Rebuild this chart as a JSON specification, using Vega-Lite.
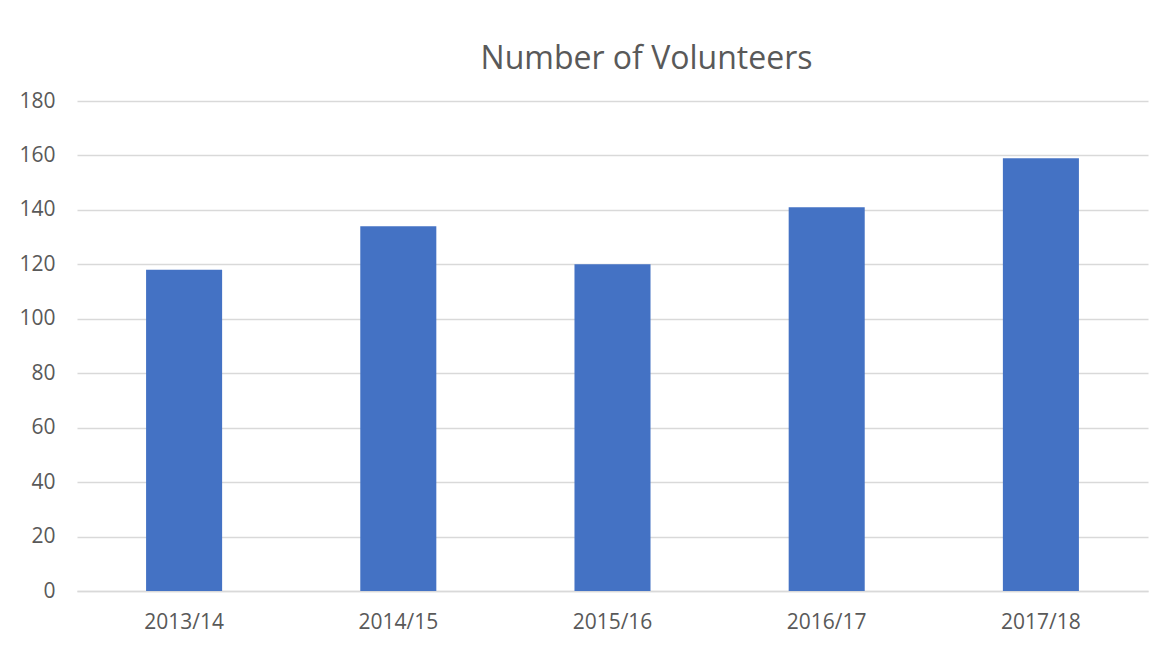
{
  "$schema": "https://vega.github.io/schema/vega-lite/v6.json",
  "autosize": "none",
  "width": 1071,
  "height": 490,
  "padding": {"left": 77, "top": 101, "right": 28, "bottom": 61},
  "background": "white",
  "title": {
    "text": "Number of Volunteers",
    "font": "Open Sans",
    "fontSize": 32,
    "fontWeight": "normal",
    "color": "#595959",
    "anchor": "middle",
    "dx": 34,
    "baseline": "alphabetic",
    "offset": -11
  },
  "data": {
    "values": [
      {"year": "2013/14", "volunteers": 118},
      {"year": "2014/15", "volunteers": 134},
      {"year": "2015/16", "volunteers": 120},
      {"year": "2016/17", "volunteers": 141},
      {"year": "2017/18", "volunteers": 159}
    ]
  },
  "mark": {"type": "bar", "color": "#4472C4"},
  "encoding": {
    "x": {
      "field": "year",
      "type": "nominal",
      "title": null,
      "scale": {"paddingInner": 0.645, "paddingOuter": 0.3225},
      "axis": {
        "labelAngle": 0,
        "labelFont": "Open Sans",
        "labelFontSize": 21,
        "labelColor": "#595959",
        "labelPadding": 20,
        "ticks": false,
        "domainColor": "#d9d9d9",
        "domainWidth": 1.5
      }
    },
    "y": {
      "field": "volunteers",
      "type": "quantitative",
      "title": null,
      "scale": {"domain": [0, 180]},
      "axis": {
        "values": [0, 20, 40, 60, 80, 100, 120, 140, 160, 180],
        "labelFont": "Open Sans",
        "labelFontSize": 21,
        "labelColor": "#595959",
        "labelPadding": 22,
        "ticks": false,
        "domain": false,
        "gridColor": "#d9d9d9",
        "gridWidth": 1.5
      }
    }
  },
  "config": {"view": {"stroke": null}}
}
